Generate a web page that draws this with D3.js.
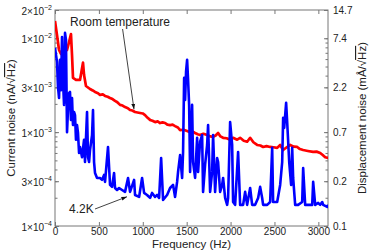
<!DOCTYPE html>
<html><head><meta charset="utf-8">
<script src="https://cdn.jsdelivr.net/npm/d3@7"></script>
<style>
body{margin:0;background:#fff;}
text{font-family:"Liberation Sans",Arial,sans-serif;fill:#222;}
</style></head>
<body><svg id="c" width="374" height="250"></svg>
<script>
// ---- data ----
const redFreq = [0,23,46,68,103,137,160,182,194,205,239,285,308,319,331,353,399,430,456,490,513,545,570,600,627,655,684,710,741,770,798,830,855,880,912,940,969,1000,1026,1055,1083,1110,1140,1170,1197,1225,1254,1280,1311,1340,1368,1400,1425,1465,1505,1539,1570,1596,1625,1653,1690,1733,1770,1801,1830,1858,1885,1915,1955,1995,2029,2075,2109,2150,2189,2223,2260,2303,2340,2371,2410,2451,2490,2531,2565,2599,2640,2679,2720,2759,2790,2827,2880,2941,2980,3021,3050,3078,3112];
const redNoise = [1.53e-2,1.08e-2,7.5e-3,6.8e-3,7.1e-3,7.5e-3,9.1e-3,1.11e-2,6.6e-3,3.78e-3,3.6e-3,3.6e-3,4.8e-3,5.5e-3,4.06e-3,3.1e-3,2.88e-3,2.78e-3,2.68e-3,2.6e-3,2.49e-3,2.52e-3,2.43e-3,2.38e-3,2.31e-3,2.25e-3,2.15e-3,2.08e-3,1.95e-3,1.92e-3,1.85e-3,1.8e-3,1.72e-3,1.7e-3,1.64e-3,1.62e-3,1.6e-3,1.58e-3,1.52e-3,1.42e-3,1.35e-3,1.32e-3,1.28e-3,1.3e-3,1.25e-3,1.27e-3,1.25e-3,1.2e-3,1.19e-3,1.2e-3,1.16e-3,1.12e-3,1.05e-3,1.06e-3,1.03e-3,1.0e-3,1.01e-3,9.8e-4,9.5e-4,9.3e-4,9.6e-4,9.3e-4,9.0e-4,8.9e-4,9.2e-4,9.8e-4,9.0e-4,8.7e-4,8.6e-4,8.3e-4,8.7e-4,8.3e-4,8.7e-4,8.1e-4,7.9e-4,8.7e-4,7.8e-4,7.3e-4,7.2e-4,6.95e-4,7.1e-4,6.95e-4,6.9e-4,6.8e-4,7.3e-4,6.45e-4,6.9e-4,7.3e-4,7.0e-4,6.95e-4,6.6e-4,6.45e-4,6.3e-4,6.15e-4,6.2e-4,6.0e-4,5.7e-4,5.4e-4,5.3e-4];

const blueFreq = [0,23,34,46,57,68,80,91,103,114,125,137,148,160,171,182,194,205,217,228,239,251,262,274,285,308,331,342,365,376,388,399,422,433,445,456,479,513,536,559,570,604,627,650,673,684,707,730,764,798,832,855,901,912,958,992,1015,1049,1083,1106,1140,1163,1186,1209,1231,1277,1311,1345,1368,1391,1402,1425,1448,1459,1471,1482,1493,1505,1516,1528,1539,1550,1562,1573,1596,1619,1630,1653,1676,1687,1710,1733,1744,1767,1790,1801,1824,1847,1858,1881,1904,1915,1938,1961,1972,1995,2018,2029,2052,2086,2109,2143,2166,2189,2223,2246,2280,2314,2337,2360,2371,2417,2451,2474,2485,2531,2565,2588,2599,2611,2633,2645,2668,2690,2702,2713,2736,2770,2816,2827,2850,2884,2930,2941,2964,2998,3021,3044,3055,3101,3112];
const blueNoise = [7.9e-3,5.6e-3,3.03e-3,2.31e-3,5.9e-3,2.8e-3,1.03e-2,3.6e-3,1.95e-3,1.14e-2,9.6e-3,1.0e-3,1.72e-3,2.61e-3,2.68e-3,1.35e-3,2.31e-3,1.19e-3,1.64e-3,1.52e-3,8.3e-4,1.19e-3,9.8e-4,6.0e-4,6.95e-4,5.4e-4,8.3e-4,4.8e-4,1.64e-3,5.4e-4,4.8e-4,6.45e-4,9.3e-4,1.72e-3,4.8e-4,3.67e-4,3.25e-4,3.25e-4,3.1e-4,3.5e-4,2.95e-4,6.95e-4,2.74e-4,2.61e-4,3.67e-4,2.54e-4,2.42e-4,2.54e-4,2.42e-4,2.31e-4,3.25e-4,2.31e-4,3.1e-4,2.14e-4,2.04e-4,3.25e-4,2.25e-4,2.14e-4,1.99e-4,2.25e-4,2.04e-4,2.14e-4,1.99e-4,5.3e-4,1.9e-4,2.14e-4,2.54e-4,2.74e-4,2.04e-4,2.95e-4,3.77e-4,5.7e-4,3.25e-4,6.15e-4,3.78e-3,2.2e-3,4.4e-3,5.9e-3,3.6e-3,1.95e-3,3.77e-4,1.05e-3,1.95e-3,4.8e-4,3.25e-4,8.7e-4,3.77e-4,7.9e-4,9.3e-4,2.31e-4,4.5e-4,7.3e-4,1.19e-3,2.31e-4,3.77e-4,9.3e-4,2.31e-4,5.3e-4,4.8e-4,2.31e-4,2.74e-4,3.25e-4,1.99e-4,1.68e-4,1.99e-4,1.28e-3,7.3e-4,1.8e-4,1.68e-4,6.15e-4,1.68e-4,1.68e-4,2.31e-4,1.68e-4,2.54e-4,1.68e-4,1.68e-4,1.99e-4,2.61e-4,1.99e-4,1.68e-4,1.68e-4,1.8e-4,6.8e-4,1.8e-4,1.8e-4,2.74e-4,4.8e-4,1.42e-3,1.11e-3,2.05e-3,1.28e-3,4.8e-4,2.74e-4,6.8e-4,3.25e-4,1.68e-4,1.68e-4,1.8e-4,4.15e-4,1.68e-4,1.68e-4,1.68e-4,2.95e-4,1.68e-4,1.76e-4,1.68e-4,1.8e-4,1.68e-4,1.6e-4,1.68e-4];

const xTicks = [0,500,1000,1500,2000,2500,3000];
const yTickVals = [1e-4,3e-4,1e-3,3e-3,1e-2,2e-2];
const yTickMant = ["1","3","1","3","1","2"];
const yTickExp = ["\u22124","\u22124","\u22123","\u22123","\u22122","\u22122"];
const rightTickLabels = ["0.1","0.2","0.7","2.2","7.4","14.7"];

// ---- layout ----
const W = 374, H = 250;
const m = {l:55, t:10, r:46, b:24};
const svg = d3.select("#c");
const x = d3.scaleLinear().domain([0,3110]).range([m.l, W-m.r]);
const y = d3.scaleLog().domain([1e-4,2e-2]).range([H-m.b, m.t]);
const axisCol = "#777";

svg.append("defs").append("clipPath").attr("id","clip")
  .append("rect").attr("x",m.l).attr("y",m.t).attr("width",W-m.r-m.l).attr("height",H-m.b-m.t);

// minor ticks (log)
const minor = [];
for (let e=-4; e<=-2; e++) for (let k=1; k<=9; k++){ const v=k*Math.pow(10,e); if(v>=1e-4 && v<=2e-2) minor.push(v); }

function styleAxis(g){
  g.select(".domain").remove();
  g.selectAll(".tick line").attr("stroke",axisCol);
  g.selectAll(".tick text").style("font-size","10px").attr("fill","#222");
}

// bottom axis
const gx = svg.append("g").attr("transform",`translate(0,${H-m.b})`)
  .call(d3.axisBottom(x).tickValues(xTicks).tickSizeInner(-4).tickSizeOuter(0).tickPadding(2).tickFormat(d3.format("d")));
styleAxis(gx);
// top axis
const gt = svg.append("g").attr("transform",`translate(0,${m.t})`)
  .call(d3.axisTop(x).tickValues(xTicks).tickSizeInner(-4).tickSizeOuter(0).tickFormat(""));
styleAxis(gt);

// left axis minor + major
const gyMinor = svg.append("g").attr("transform",`translate(${m.l},0)`)
  .call(d3.axisLeft(y).tickValues(minor).tickSizeInner(-2.5).tickSizeOuter(0).tickFormat(""));
styleAxis(gyMinor);
const gy = svg.append("g").attr("transform",`translate(${m.l},0)`)
  .call(d3.axisLeft(y).tickValues(yTickVals).tickSizeInner(-4).tickSizeOuter(0).tickPadding(4).tickFormat(""));
styleAxis(gy);
gy.selectAll(".tick").each(function(d,i){
  const t = d3.select(this).append("text").attr("x",-3).attr("y",4).attr("text-anchor","end").style("font-size","10px");
  t.append("tspan").text(yTickMant[i] + "\u00d710");
  t.append("tspan").attr("dy",-5).style("font-size","7px").text(yTickExp[i]);
});

// right axis
const gyrMinor = svg.append("g").attr("transform",`translate(${W-m.r},0)`)
  .call(d3.axisRight(y).tickValues(minor).tickSizeInner(-2.5).tickSizeOuter(0).tickFormat(""));
styleAxis(gyrMinor);
const gyr = svg.append("g").attr("transform",`translate(${W-m.r},0)`)
  .call(d3.axisRight(y).tickValues(yTickVals).tickSizeInner(-4).tickSizeOuter(0).tickPadding(5).tickFormat((d,i)=>rightTickLabels[i]));
styleAxis(gyr);

// frame
svg.append("rect").attr("x",m.l).attr("y",m.t).attr("width",W-m.r-m.l).attr("height",H-m.b-m.t)
  .attr("fill","none").attr("stroke",axisCol).attr("stroke-width",1);

// lines
const line = d3.line().x(d=>x(d[0])).y(d=>y(d[1]));
const plot = svg.append("g").attr("clip-path","url(#clip)");
plot.append("path").datum(redFreq.map((f,i)=>[f,redNoise[i]]))
  .attr("d",line).attr("fill","none").attr("stroke","#f00").attr("stroke-width",2.7).attr("stroke-linejoin","round");
plot.append("path").datum(blueFreq.map((f,i)=>[f,blueNoise[i]]))
  .attr("d",line).attr("fill","none").attr("stroke","#00f").attr("stroke-width",2.6).attr("stroke-linejoin","round");

// annotations
const defs = svg.select("defs");
defs.append("marker").attr("id","arr").attr("viewBox","0 0 10 10").attr("refX",10).attr("refY",5)
  .attr("markerWidth",7).attr("markerHeight",7).attr("orient","auto")
  .append("path").attr("d","M0,1.5 L10,5 L0,8.5 Z").attr("fill","#111");

svg.append("text").attr("x",70).attr("y",26).style("font-size","12px").text("Room temperature");
svg.append("line").attr("x1",x(770)).attr("y1",29).attr("x2",x(900)).attr("y2",y(1.75e-3))
  .attr("stroke","#111").attr("stroke-width",0.8).attr("marker-end","url(#arr)");
svg.append("text").attr("x",69).attr("y",213).style("font-size","12px").text("4.2K");
svg.append("line").attr("x1",95).attr("y1",209).attr("x2",x(820)).attr("y2",y(2.05e-4))
  .attr("stroke","#111").attr("stroke-width",0.8).attr("marker-end","url(#arr)");

// axis titles
svg.append("text").attr("x",(m.l+W-m.r)/2).attr("y",248).attr("text-anchor","middle").style("font-size","11.5px").text("Frequency (Hz)");
function sqrtTitle(parent, pre, unit){
  const t = parent.append("text").attr("text-anchor","middle").style("font-size","11.5px");
  t.append("tspan").text(pre + " (" + unit + "/\u221a");
  t.append("tspan").style("text-decoration","overline").text("Hz");
  t.append("tspan").text(")");
  return t;
}
sqrtTitle(svg,"Current noise","nA").attr("transform",`translate(15,${(m.t+H-m.b)/2}) rotate(-90)`);
sqrtTitle(svg,"Displacement noise","m\u00c5").attr("transform",`translate(366,${(m.t+H-m.b)/2}) rotate(-90)`);
</script></body></html>
